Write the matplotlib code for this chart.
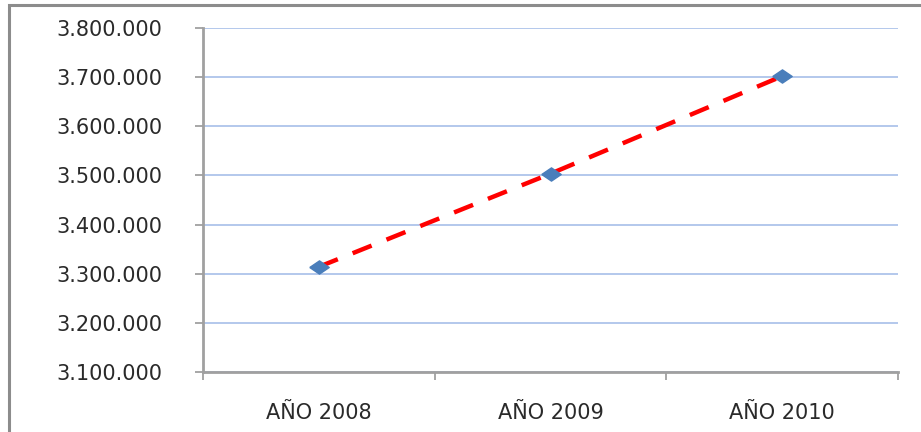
import matplotlib
matplotlib.use("Agg")
import matplotlib.pyplot as plt
from matplotlib.patches import Rectangle
from matplotlib.ticker import FuncFormatter, FixedLocator

categories = ["AÑO 2008", "AÑO 2009", "AÑO 2010"]
values = [3314000, 3503500, 3702000]
y_ticks = [3100000, 3200000, 3300000, 3400000, 3500000, 3600000, 3700000, 3800000]

plt.rcParams["font.family"] = ["DejaVu Sans"]

fig = plt.figure(figsize=(9.21, 4.32), dpi=100)
fig.patch.set_facecolor("white")

# outer chart frame
fig.add_artist(Rectangle((9 / 921, -0.1), 1.2, 1 - 5 / 432 + 0.1,
                         transform=fig.transFigure, fill=False,
                         edgecolor="#8c8c8c", linewidth=2.2))

ax = fig.add_axes([203 / 921, 60 / 432, (898 - 203) / 921, (372 - 28) / 432])

x = list(range(len(categories)))
diamond = [(-1, 0), (0, 0.68), (1, 0), (0, -0.68), (-1, 0)]
line, = ax.plot(x, values, color="#ff0000", linewidth=3.2, zorder=3)
line.set_dashes((4.6, 3.6))
ax.plot(x, values, linestyle="none", marker=diamond, markersize=14,
        markerfacecolor="#4a7ebb", markeredgecolor="#4a7ebb", zorder=4)

ax.set_xlim(-0.5, len(categories) - 0.5)
ax.set_ylim(y_ticks[0], y_ticks[-1])

ax.yaxis.set_major_locator(FixedLocator(y_ticks))
ax.yaxis.set_major_formatter(FuncFormatter(lambda v, p: f"{int(v):,}".replace(",", ".")))
ax.grid(axis="y", color="#aec4ea", linewidth=1.3)
ax.set_axisbelow(True)

# category boundaries as ticks, labels centred between them
ax.xaxis.set_major_locator(FixedLocator([i - 0.5 for i in range(len(categories) + 1)]))
ax.xaxis.set_major_formatter(FuncFormatter(lambda v, p: ""))
ax.xaxis.set_minor_locator(FixedLocator(x))
ax.set_xticklabels(categories, minor=True)
ax.tick_params(axis="x", which="minor", length=0, pad=22, labelsize=15, labelcolor="#2a2a2a")
ax.tick_params(axis="x", which="major", length=6, width=1.3, color="#a0a0a0", direction="out")
ax.tick_params(axis="y", length=6, width=1.3, color="#a0a0a0", direction="out",
               pad=23, labelsize=15, labelcolor="#2a2a2a")

for side in ("top", "right"):
    ax.spines[side].set_visible(False)
for side in ("left", "bottom"):
    ax.spines[side].set_color("#a0a0a0")
    ax.spines[side].set_linewidth(2.0)

fig.savefig("out.png", dpi=100, facecolor="white")
